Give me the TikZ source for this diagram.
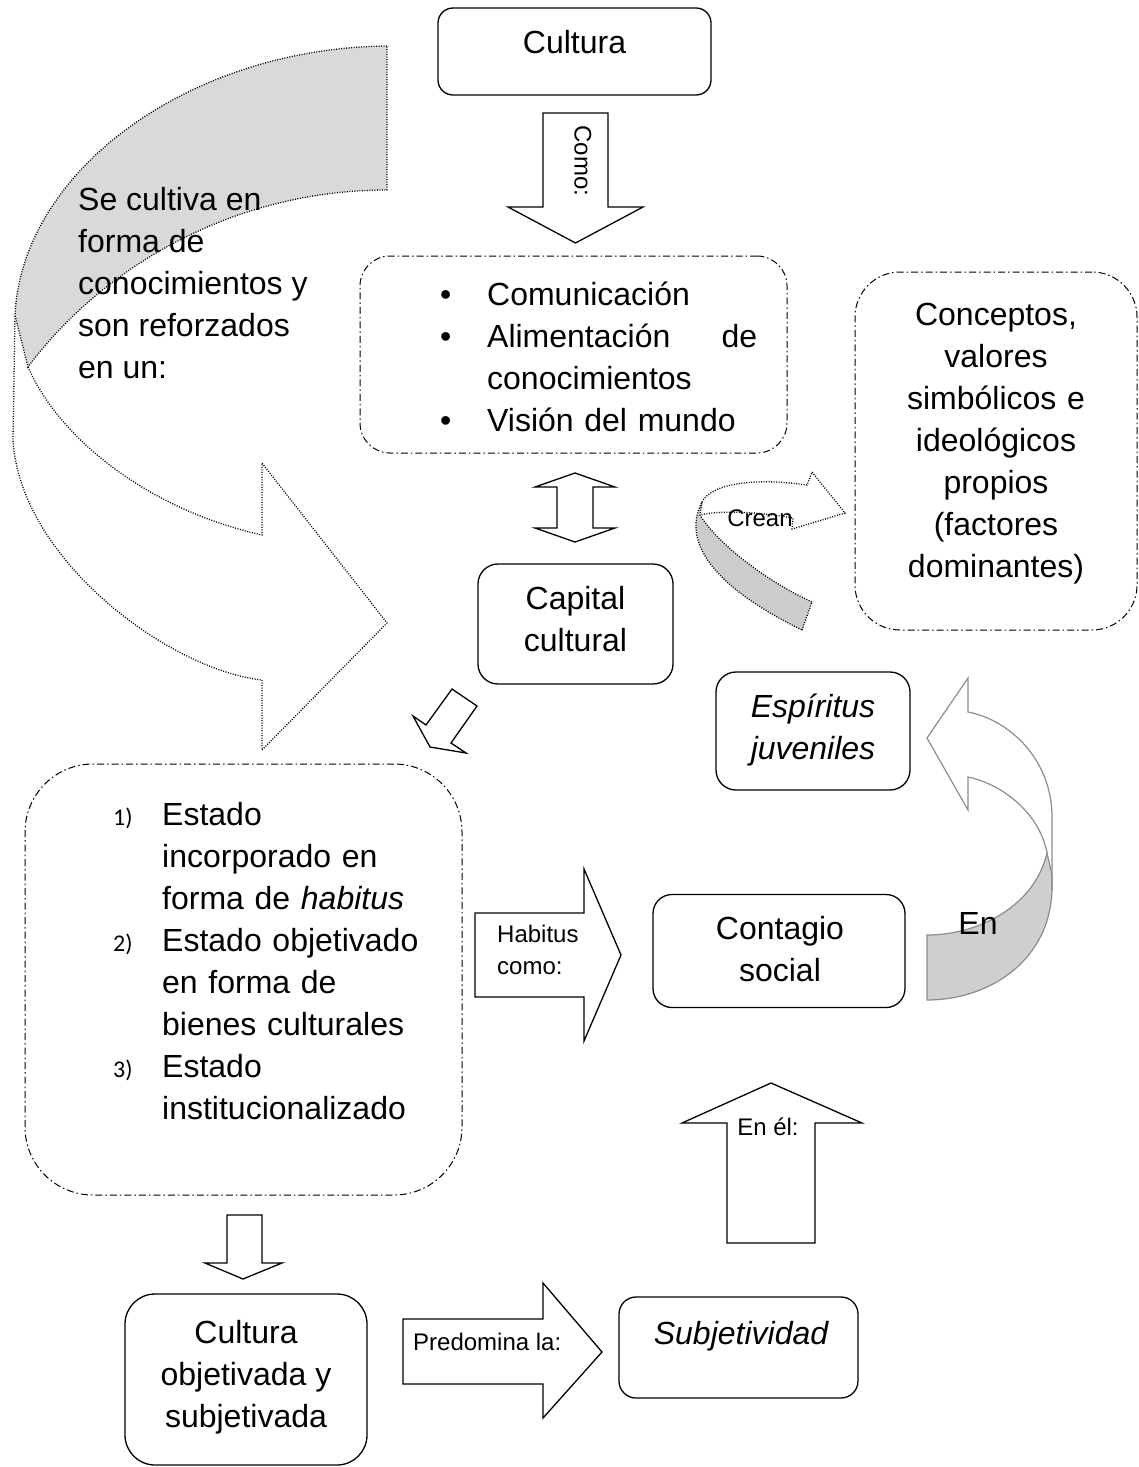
\documentclass[tikz,border=0pt]{standalone}
\usepackage{fontspec}
\setmainfont{Liberation Sans}
\newfontfamily\numfont{Carlito}
\begin{document}
\begin{tikzpicture}[x=1pt, y=-1pt, every node/.style={inner sep=0pt},
  solidbox/.style={draw=black, line width=1.3pt},
  dashbox/.style={draw=black, line width=1pt, dash pattern=on 7pt off 3pt on 1.5pt off 3pt},
  txtbig/.style={font=\fontsize{32}{42}\selectfont},
  txtbigit/.style={font=\fontsize{32}{42}\selectfont\itshape},
  txtsmall/.style={font=\fontsize{24}{32}\selectfont},
  blockarrow/.style={draw=black, line width=1.3pt, fill=white},
  dotarrow/.style={draw=black, line width=1.3pt, dash pattern=on 1pt off 1.5pt},
  greyarrow/.style={draw=black!45, line width=1.2pt}]
\useasboundingbox (0,0) rectangle (1138,1467);

% big curved arrow on the left
\draw[dotarrow, fill=black!15] (387,46) .. controls (190,48) and (22,170) .. (15,315) -- (28,367)
  .. controls (100,270) and (230,190) .. (387,190) -- cycle;
\draw[dotarrow] (28,367) .. controls (60,440) and (150,510) .. (262,535) -- (262,463) -- (387,623)
  -- (262,750) -- (262,680) .. controls (170,670) and (20,560) .. (13,440) -- (15,315);

% boxes
\node[solidbox, rounded corners=15pt, minimum width=273pt, minimum height=87pt] (cultura) at (574.5,51.5) {};
\node[dashbox, rounded corners=30pt, minimum width=427pt, minimum height=197pt] (lista) at (573.5,354.5) {};
\node[dashbox, rounded corners=45pt, minimum width=282pt, minimum height=358pt] (conceptos) at (996,451) {};
\node[solidbox, rounded corners=20pt, minimum width=195pt, minimum height=120pt] (capital) at (575.5,624) {};
\node[solidbox, rounded corners=20pt, minimum width=194pt, minimum height=118pt] (espiritus) at (813,731) {};
\node[dashbox, rounded corners=68pt, minimum width=437pt, minimum height=431pt] (estado) at (243.5,979.5) {};
\node[solidbox, rounded corners=19pt, minimum width=252pt, minimum height=113pt] (contagio) at (779,951) {};
\node[solidbox, rounded corners=30pt, minimum width=242pt, minimum height=171pt] (objetivada) at (246,1379.5) {};
\node[solidbox, rounded corners=17pt, minimum width=239pt, minimum height=101pt] (subjetividad) at (738.5,1347.5) {};

% block arrows
\draw[blockarrow] (543,113) -- (608,113) -- (608,207) -- (643,207) -- (575.5,243) -- (508,207) -- (543,207) -- cycle;
\draw[blockarrow] (575,473) -- (615,487) -- (593,487) -- (593,528) -- (615,528) -- (575,542) -- (535,528)
  -- (557,528) -- (557,487) -- (535,487) -- cycle;
\draw[blockarrow] (452,689) -- (477,706) -- (451,743) -- (466,753) -- (430,747) -- (413,716) -- (426,725) -- cycle;
\draw[blockarrow] (475,913) -- (584,913) -- (584,869) -- (621,955) -- (584,1041) -- (584,997) -- (475,997) -- cycle;
\draw[blockarrow] (727,1243) -- (727,1123) -- (682,1123) -- (771,1083) -- (862,1123) -- (815,1123) -- (815,1243) -- cycle;
\draw[blockarrow] (227,1215) -- (262,1215) -- (262,1263) -- (282,1263) -- (243,1279) -- (205,1263) -- (227,1263) -- cycle;
\draw[blockarrow] (403,1319) -- (543,1319) -- (543,1283) -- (602,1352) -- (543,1418) -- (543,1384) -- (403,1384) -- cycle;

% curved arrow "Crean"
\draw[dotarrow, fill=black!20] (802,630) -- (812,602) .. controls (760,578) and (715,540) .. (700,515)
  -- (702,502) .. controls (682,540) and (710,585) .. (802,630) -- cycle;
\draw[dotarrow] (702,502) .. controls (712,482) and (760,478) .. (807,485) -- (812,472) -- (845,513)
  -- (792,529) -- (793,518) .. controls (760,512) and (720,510) .. (700,515);

% curved arrow "En"
\draw[greyarrow, fill=black!19] (927,935) .. controls (980,935) and (1035,905) .. (1047,853) -- (1052,875)
  -- (1052,890) .. controls (1050,960) and (990,1000) .. (927,1000) -- cycle;
\draw[greyarrow] (1052,890) -- (1052,817) .. controls (1052,760) and (1010,720) .. (968,712) -- (968,678)
  -- (927,738) -- (968,810) -- (968,777) .. controls (1005,785) and (1040,815) .. (1047,853);

% texts
\node[txtbig, anchor=base] (tcultura) at (574.5,53) {Cultura};
\node[txtsmall, rotate=-90] (tcomo) at (583,161) {Como:};
\node[txtbig, anchor=base west, align=left] (tcultiva) at (78,378)
  {Se cultiva en\\forma de\\conocimientos y\\son reforzados\\en un:};
\node[txtbig, anchor=base west, text width=317pt, align=left] (tlista) at (440,305)
  {\makebox[47pt][l]{\textbullet}Comunicación\\
   \makebox[47pt][l]{\textbullet}Alimentación\hfill de\\
   \makebox[47pt][l]{}conocimientos\\
   \makebox[47pt][l]{\textbullet}Visión del mundo};
\node[txtbig, anchor=base, text width=282pt, align=center] (tconceptos) at (996,325)
  {Conceptos,\\valores\\simbólicos e\\ideológicos\\propios\\(factores\\dominantes)};
\node[txtsmall, anchor=base] (tcrean) at (760,526) {Crean};
\node[txtbig, anchor=base, align=center] (tcapital) at (575.5,651) {Capital\\cultural};
\node[txtbigit, anchor=base, align=center] (tespiritus) at (813,759) {Espíritus\\juveniles};
\node[txtbig, anchor=base west, text width=320pt, align=left] (testado) at (113,825)
  {\makebox[49pt][l]{\numfont\fontsize{24}{42}\selectfont 1)}Estado\\
   \makebox[49pt][l]{}incorporado en\\
   \makebox[49pt][l]{}forma de \textit{habitus}\\
   \makebox[49pt][l]{\numfont\fontsize{24}{42}\selectfont 2)}Estado objetivado\\
   \makebox[49pt][l]{}en forma de\\
   \makebox[49pt][l]{}bienes culturales\\
   \makebox[49pt][l]{\numfont\fontsize{24}{42}\selectfont 3)}Estado\\
   \makebox[49pt][l]{}institucionalizado};
\node[txtsmall, anchor=base west, align=left] (thabitus) at (497,974) {Habitus\\como:};
\node[txtbig, anchor=base, align=center] (tcontagio) at (780,981) {Contagio\\social};
\node[txtbig, anchor=base] (ten) at (978,934) {En};
\node[txtsmall, anchor=base] (tenel) at (768,1135) {En él:};
\node[txtbig, anchor=base, align=center] (tobjetivada) at (246,1427) {Cultura\\objetivada y\\subjetivada};
\node[txtsmall, anchor=base west] (tpredomina) at (413,1350) {Predomina la:};
\node[txtbigit, anchor=base] (tsubjetividad) at (741,1344) {Subjetividad};
\end{tikzpicture}
\end{document}
